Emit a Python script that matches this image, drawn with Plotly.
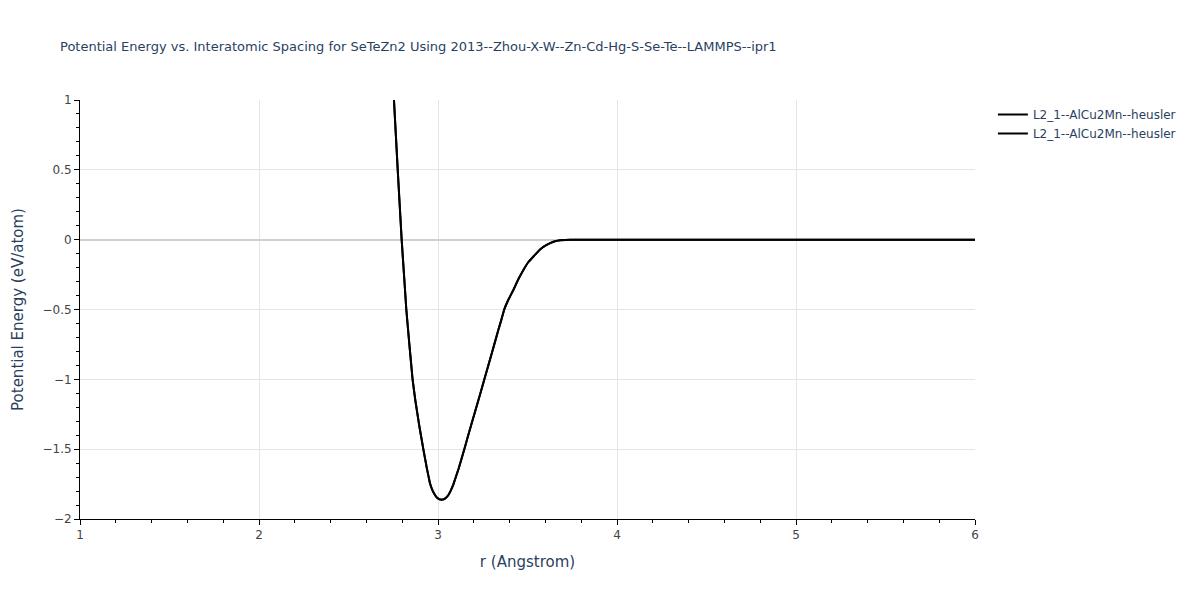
import plotly.graph_objects as go

r_vals = [2.70, 2.754, 2.775, 2.797, 2.810, 2.823, 2.840, 2.858, 2.873, 2.895, 2.918,
          2.937, 2.955, 2.970, 2.983, 2.995, 3.008, 3.020, 3.032, 3.045, 3.058, 3.072, 3.086,
          3.115, 3.147, 3.187, 3.226, 3.259, 3.299, 3.337, 3.354, 3.370, 3.393,
          3.421, 3.450, 3.477, 3.505, 3.532, 3.570, 3.607, 3.645, 3.682, 3.740,
          4.0, 4.5, 5.0, 5.5, 6.0]
e_vals = [2.3, 1.0, 0.5, 0.0, -0.25, -0.5, -0.75, -1.0, -1.148, -1.33, -1.5,
          -1.632, -1.744, -1.797, -1.828, -1.848, -1.859, -1.862, -1.859, -1.848, -1.828, -1.795, -1.752,
          -1.64, -1.5, -1.32, -1.148, -1.0, -0.82, -0.647, -0.573, -0.5, -0.43,
          -0.36, -0.28, -0.217, -0.16, -0.122, -0.07, -0.038, -0.015, -0.005, 0.0,
          0.0, 0.0, 0.0, 0.0, 0.0]
series_names = ["L2_1--AlCu2Mn--heusler", "L2_1--AlCu2Mn--heusler"]

fig = go.Figure()
for name in series_names:
    fig.add_trace(go.Scatter(x=r_vals, y=e_vals, mode="lines", name=name,
                             line=dict(color="black", width=2, shape="spline", smoothing=0.15)))

FONT = "DejaVu Sans, Verdana, sans-serif"
axis_common = dict(showline=True, linecolor="black", linewidth=1, ticks="outside",
                   tickcolor="black", ticklen=5, gridcolor="#e5e5e5", showgrid=True,
                   tickfont=dict(size=12, color="#444"))
fig.update_layout(
    width=1200, height=600,
    template="plotly_white",
    font=dict(family=FONT, color="#444"),
    title=dict(text="Potential Energy vs. Interatomic Spacing for SeTeZn2 Using 2013--Zhou-X-W--Zn-Cd-Hg-S-Se-Te--LAMMPS--ipr1",
               x=0.05, y=0.93, xanchor="left", font=dict(size=13, color="#2a3f5f")),
    xaxis=dict(title=dict(text="r (Angstrom)", font=dict(size=15, color="#2a3f5f")), range=[1, 6],
               dtick=1, minor=dict(ticks="outside", dtick=0.2, ticklen=3, tickcolor="black", showgrid=False),
               zeroline=False, **axis_common),
    yaxis=dict(title=dict(text="Potential Energy (eV/atom)", font=dict(size=15, color="#2a3f5f")), range=[-2, 1],
               dtick=0.5, minor=dict(ticks="outside", dtick=0.1, ticklen=3, tickcolor="black", showgrid=False),
               zeroline=True, zerolinecolor="#d0d0d0", zerolinewidth=2, **axis_common),
    legend=dict(font=dict(size=12, color="#2a3f5f")),
    margin=dict(l=80, r=225, t=100, b=81),
    plot_bgcolor="white", paper_bgcolor="white",
)
fig.write_html("out.html", config={"displayModeBar": False},
               post_script="document.body.style.margin='0';")
